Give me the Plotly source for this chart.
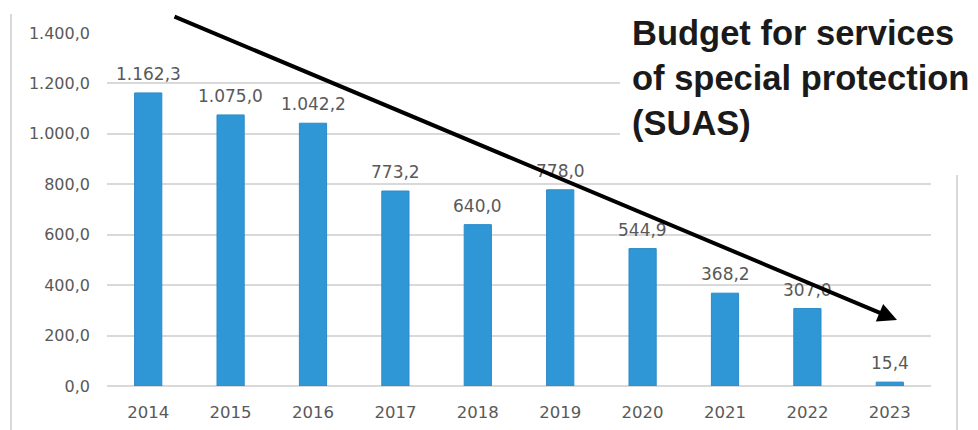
import plotly.graph_objects as go

years = ["2014", "2015", "2016", "2017", "2018", "2019", "2020", "2021", "2022", "2023"]
budget = [1162.3, 1075.0, 1042.2, 773.2, 640.0, 778.0, 544.9, 368.2, 307.0, 15.4]
y_ticks = [0, 200, 400, 600, 800, 1000, 1200, 1400]
title_lines = ["Budget for services", "of special protection", "(SUAS)"]

# page has an 8px body margin; figure sized to fit the 978x430 window
W, H = 970, 422
L, R, T, B = 99, 47, 25, 44
PW, PH = W - L - R, H - T - B
OFF = 8


# helpers take screen pixel coordinates
def px(x):
    return (x - OFF - L) / PW


def py(y):
    return (H - B - (y - OFF)) / PH


def fmt(v):
    s = f"{v:,.1f}"
    return s.replace(",", "X").replace(".", ",").replace("X", ".")


GRAY = "#595959"
GRID = "#D9D9D9"
FONT = "DejaVu Sans"

fig = go.Figure()
fig.add_trace(go.Bar(
    x=years, y=budget,
    marker=dict(color="#2F97D5", line=dict(color="#2A8BC8", width=1)),
    hoverinfo="skip",
))

annotations = []
for i, v in enumerate(budget):
    annotations.append(dict(
        x=i, y=v, xref="x", yref="y", text=fmt(v), showarrow=False,
        yanchor="bottom", yshift=7, font=dict(family=FONT, size=17, color=GRAY),
    ))

# trend arrow (tip at 897,320; tail at 173,16 in screen pixels)
annotations.append(dict(
    x=px(897), y=py(320), xref="paper", yref="paper",
    ax=173 - 897, ay=16 - 320, axref="pixel", ayref="pixel",
    showarrow=True, arrowhead=2, arrowsize=0.95, arrowwidth=4, arrowcolor="#000000",
    text="",
))

# title
annotations.append(dict(
    x=px(630), y=py(12), xref="paper", yref="paper", xanchor="left", yanchor="top",
    align="left", showarrow=False, text="<br>".join(title_lines),
    font=dict(family="Liberation Sans", size=34.5, color="#1A1A1A", weight="bold"),
))

shapes = [
    dict(type="rect", xref="paper", yref="paper", x0=px(620), x1=px(985), y0=py(160), y1=py(0),
         fillcolor="white", line=dict(width=0), layer="above"),
    dict(type="line", xref="paper", yref="paper", x0=px(11), x1=px(11), y0=py(432), y1=py(14),
         line=dict(color=GRID, width=2)),
    dict(type="line", xref="paper", yref="paper", x0=px(957), x1=px(957), y0=py(432), y1=py(175),
         line=dict(color=GRID, width=2)),
]

fig.update_layout(
    width=W, height=H,
    margin=dict(l=L, r=R, t=T, b=B, autoexpand=False),
    paper_bgcolor="white", plot_bgcolor="white",
    separators=",.",
    bargap=0.67,
    showlegend=False,
    annotations=annotations,
    shapes=shapes,
    font=dict(family=FONT, size=16, color=GRAY),
)
fig.update_xaxes(
    type="category", range=[-0.5, len(years) - 0.5], showgrid=False, showline=False, ticks="",
    tickfont=dict(family=FONT, size=16.5, color=GRAY), ticklabelstandoff=14,
)
fig.update_yaxes(
    range=[0, 1400], tickvals=y_ticks, tickformat=",.1f",
    showgrid=True, gridcolor=GRID, gridwidth=1.5,
    zeroline=True, zerolinecolor=GRID, zerolinewidth=1.5,
    showline=False, ticks="",
    tickfont=dict(family=FONT, size=16, color=GRAY), ticklabelstandoff=16,
)

fig.write_html("out.html")
